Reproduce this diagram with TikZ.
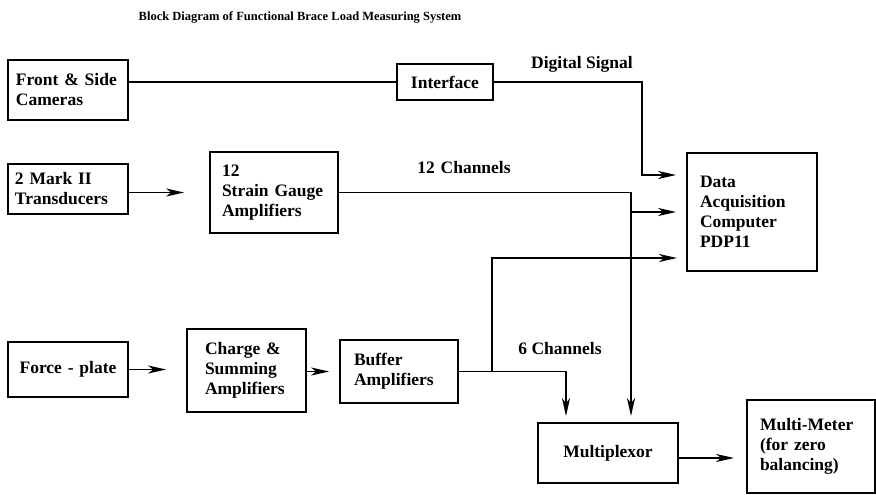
\documentclass[tikz,border=0pt]{standalone}
\usepackage{fontspec}
\setmainfont{Liberation Serif}
\usetikzlibrary{arrows.meta}
\tikzset{
  blk/.style={draw,line width=1.8pt,inner ysep=0pt,align=left},
  flow/.style={line width=1.8pt,-{Stealth[length=18pt,width=8pt,inset=5pt]}},
}
\begin{document}
\begin{tikzpicture}[x=1pt,y=-1pt,font=\fontsize{17.5}{20}\selectfont\bfseries]
  \useasboundingbox (0,0) rectangle (876,495);
  \node[font=\fontsize{12.5}{14}\selectfont\bfseries] (title) at (300,17) {Block Diagram of Functional Brace Load Measuring System};

  \node[blk,text width=104pt,inner xsep=8pt,minimum height=60pt] (cams) at (68,90) {Front \& Side\\Cameras};
  \node[blk,align=center,text width=80pt,inner xsep=8pt,minimum height=36pt] (iface) at (445,82) {Interface};
  \node[blk,text width=106pt,inner xsep=7pt,minimum height=50pt] (trans) at (68,189) {2 Mark II\\Transducers};
  \node[blk,text width=104pt,inner xsep=12pt,minimum height=81pt] (strain) at (274,192.5) {12\\Strain Gauge\\Amplifiers};
  \node[blk,text width=104pt,inner xsep=13pt,minimum height=118pt] (daq) at (752,212) {Data\\Acquisition\\Computer\\PDP11};
  \node[blk,align=center,text width=106pt,inner xsep=7pt,minimum height=55pt] (fplate) at (68,369.5) {Force - plate};
  \node[blk,text width=83pt,inner xsep=18pt,minimum height=83pt] (charge) at (246.5,370.5) {Charge \&\\Summing\\Amplifiers};
  \node[blk,text width=90pt,inner xsep=14pt,minimum height=63pt] (buffer) at (399,371.5) {Buffer\\Amplifiers};
  \node[blk,align=center,text width=124pt,inner xsep=8pt,minimum height=60pt] (mux) at (608,453) {Multiplexor};
  \node[blk,text width=102pt,inner xsep=13pt,minimum height=93pt] (meter) at (811,446.5) {Multi-Meter\\(for zero\\balancing)};

  \node (dsig) at (582,64) {Digital Signal};
  \node (ch12) at (464,168) {12\,\,Channels};
  \node (ch6) at (560,349) {6 Channels};

  \coordinate (dbend) at (642,175);
  \coordinate (sbend) at (631,192.5);
  \coordinate (bbend) at (566,371.5);
  \coordinate (btap) at (492,371.5);
  \coordinate (din) at (687,258);
  \coordinate (mout) at (678,458);

  \draw[line width=1.8pt] (cams.east |- iface) -- (iface.west);
  \draw[flow,shorten >=10pt] (iface.east) -| (dbend) -- (daq.west |- dbend);
  \draw[flow,shorten >=25pt] (trans.east |- strain) -- (strain.west);
  \draw[flow,shorten >=6pt] (strain.east) -- (sbend) -- (sbend |- mux.north);
  \draw[flow,shorten >=10pt] (sbend |- daq) -- (daq.west);
  \draw[flow,shorten >=20pt] (fplate.east) -- (fplate.east -| charge.west);
  \draw[flow,shorten >=10pt] (charge.east |- buffer) -- (buffer.west);
  \draw[flow,shorten >=6pt] (buffer.east) -- (bbend) -- (bbend |- mux.north);
  \draw[flow,shorten >=10pt] (btap) |- (din);
  \draw[flow,shorten >=12pt] (mout) -- (mout -| meter.west);
\end{tikzpicture}
\end{document}
